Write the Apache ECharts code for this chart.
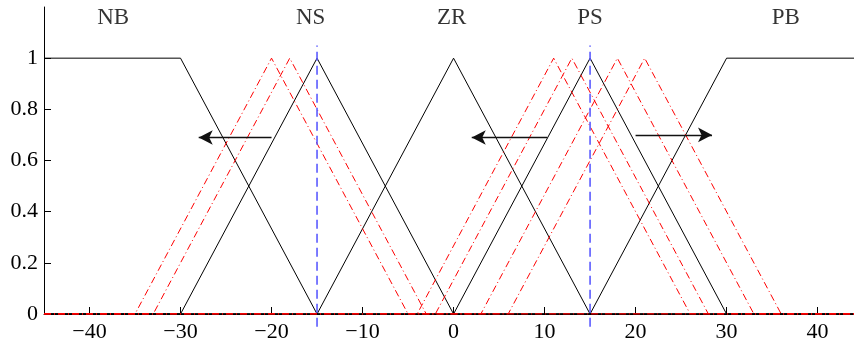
<!DOCTYPE html>
<html>
<head>
<meta charset="utf-8">
<script src="https://cdn.jsdelivr.net/npm/echarts@6/dist/echarts.min.js"></script>
<style>
  html, body { margin: 0; padding: 0; background: #fff; }
  #chart { width: 854px; height: 345px; }
</style>
</head>
<body>
<div id="chart"></div>
<script>
// Axis extents and tick values
const xRange = [-45, 44];
const yRange = [0, 1.2];
const xTicks = [-40, -30, -20, -10, 0, 10, 20, 30, 40];
const yTicks = [0, 0.2, 0.4, 0.6, 0.8, 1];

// Fuzzy set names and where they sit
const setNames = ['NB', 'NS', 'ZR', 'PS', 'PB'];
const setNameX = [-37.4, -15.7, -0.2, 15.0, 36.5];
const setNameY = 1.158;

// Nominal membership functions (breakpoints x / membership y)
const nbX = [-45, -30, -15, 44];
const nbY = [1, 1, 0, 0];
const nsX = [-45, -30, -15, 0, 44];
const nsY = [0, 0, 1, 0, 0];
const zrX = [-45, -15, 0, 15, 44];
const zrY = [0, 0, 1, 0, 0];
const psX = [-45, 0, 15, 30, 44];
const psY = [0, 0, 1, 0, 0];
const pbX = [-45, 15, 30, 44];
const pbY = [0, 0, 1, 1];

// Shifted triangles (foot, peak, foot)
const shiftedFeetL = [-35, -33, -4, -2, 3, 6];
const shiftedPeaks = [-20, -18, 11, 13, 18, 21];
const shiftedFeetR = [-5, -3, 26, 28, 33, 36];

// Reference centres (vertical guides)
const guideX = [-15, 15];
const guideY = [-0.05, 1.05];

// Shift arrows: start x, end x, height
const arrowFrom = [-20, 10.3, 20];
const arrowTo = [-28, 2, 28.4];
const arrowY = [0.69, 0.69, 0.70];

const zip = (xs, ys) => xs.map((x, i) => [x, ys[i]]);
const serif = 'Liberation Serif';

const series = [];

[[nbX, nbY], [nsX, nsY], [zrX, zrY], [psX, psY], [pbX, pbY]].forEach(([xs, ys]) => {
  series.push({
    type: 'line', data: zip(xs, ys), symbol: 'none', silent: true,
    lineStyle: { color: '#000', width: 1 }
  });
});

shiftedPeaks.forEach((p, i) => {
  series.push({
    type: 'line',
    data: [[xRange[0], 0], [shiftedFeetL[i], 0], [p, 1], [shiftedFeetR[i], 0], [xRange[1], 0]],
    symbol: 'none', silent: true,
    lineStyle: { color: '#ff0000', width: 1, type: [7, 3, 1, 3] }
  });
});

guideX.forEach(g => {
  series.push({
    type: 'line', data: [[g, guideY[0]], [g, guideY[1]]],
    symbol: 'none', silent: true, clip: false,
    lineStyle: { color: '#5b5bff', width: 1.6, type: [9, 5] }
  });
});

series.push({
  type: 'line', data: [], symbol: 'none', silent: true,
  markLine: {
    silent: true, animation: false,
    symbol: ['none', 'arrow'], symbolSize: [11, 14],
    label: { show: false },
    lineStyle: { color: '#111', width: 1.3, type: 'solid' },
    data: arrowFrom.map((x, i) => [{ coord: [x, arrowY[i]] }, { coord: [arrowTo[i], arrowY[i]] }])
  }
});

series.push({
  type: 'scatter', symbolSize: 0, silent: true,
  data: setNameX.map((x, i) => ({ value: [x, setNameY], name: setNames[i] })),
  label: {
    show: true, position: [0, 0], align: 'center', verticalAlign: 'middle',
    formatter: p => p.name, color: '#000', fontFamily: serif, fontSize: 23
  }
});

const chart = echarts.init(document.getElementById('chart'), null, { renderer: 'canvas' });
chart.setOption({
  animation: false,
  backgroundColor: '#fff',
  grid: { left: 44, right: 0, top: 7, bottom: 31 },
  xAxis: {
    type: 'value', min: xRange[0], max: xRange[1],
    axisLine: { show: true, onZero: false, lineStyle: { color: '#000', width: 1 } },
    axisTick: { show: true, inside: true, length: 7, customValues: xTicks, lineStyle: { color: '#000' } },
    axisLabel: {
      customValues: xTicks, margin: 7, color: '#000', fontFamily: serif, fontSize: 22,
      formatter: v => (v < 0 ? '\u2212' + Math.abs(v) : String(v))
    },
    splitLine: { show: false }
  },
  yAxis: {
    type: 'value', min: yRange[0], max: yRange[1],
    axisLine: { show: true, onZero: false, lineStyle: { color: '#000', width: 1 } },
    axisTick: { show: true, inside: true, length: 7, customValues: yTicks, lineStyle: { color: '#000' } },
    axisLabel: {
      customValues: yTicks, margin: 6, color: '#000', fontFamily: serif, fontSize: 22,
      formatter: v => String(Math.round(v * 10) / 10)
    },
    splitLine: { show: false }
  },
  series: series
});
</script>
</body>
</html>
